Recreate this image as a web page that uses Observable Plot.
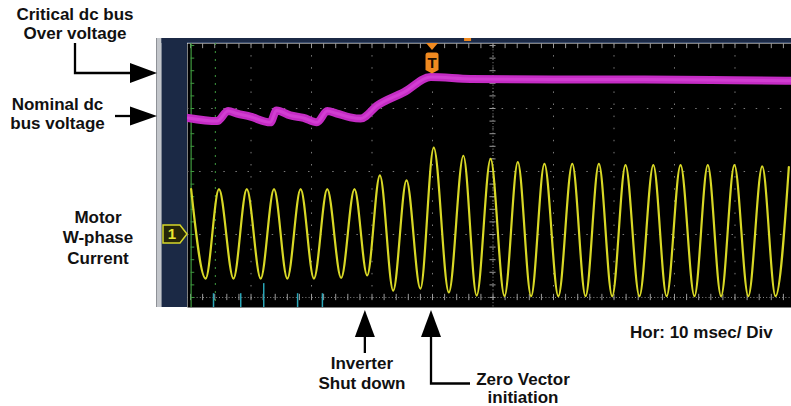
<!DOCTYPE html>
<html><head><meta charset="utf-8">
<script src="https://cdn.jsdelivr.net/npm/d3@7"></script>
<script src="https://cdn.jsdelivr.net/npm/@observablehq/plot@0.6"></script>
<style>body{margin:0;background:#fff}</style>
</head><body><div id="chart"></div>
<script>
// Time in ms (10 ms/div, trigger at 0); amplitude in screen divisions
const busT = [-40.4, -35.6, -33.8, -32.3, -30.1, -26.8, -25.8, -23.5, -21.3, -19.1, -17.4, -15.8, -13.6, -11.9, -9.1, -4.7, -0.3, 6.3, 20, 35, 50, 59.3];
const busV = [2.85, 2.80, 2.96, 2.92, 2.87, 2.78, 2.97, 2.89, 2.85, 2.78, 2.96, 2.92, 2.86, 2.84, 3.05, 3.26, 3.50, 3.47, 3.46, 3.46, 3.45, 3.44];

const curT = [-39.9, -37.5, -35.3, -32.9, -30.7, -28.4, -26.2, -24.0, -21.8, -19.6, -17.4, -15.1, -12.9, -10.8,
  -8.7, -6.5, -4.3, -2.0, 0.2, 2.7, 5.1, 7.3, 9.6, 11.9, 14.1, 16.3, 18.5, 20.8, 23.1, 25.3, 27.5, 29.7, 31.9,
  34.2, 36.5, 38.7, 41.0, 43.3, 45.5, 47.7, 49.9, 52.2, 54.5, 56.7, 58.9];
const curV = [1.72, 0.30, 1.72, 0.30, 1.72, 0.30, 1.72, 0.30, 1.72, 0.30, 1.72, 0.31, 1.72, 0.35,
  1.94, 0.11, 1.86, 0.14, 2.38, 0.08, 2.25, 0.03, 2.20, 0.02, 2.15, 0.02, 2.12, 0.02, 2.12, 0.02, 2.12, 0.02, 2.10,
  0.02, 2.10, 0.02, 2.10, 0.02, 2.10, 0.02, 2.10, 0.02, 2.08, 0.02, 2.07];

const cyanT = [-36.2, -31.7, -27.9, -22.3, -18.2];
const cyanTop = [0.06, 0.06, 0.22, 0.06, 0.06];

const gridT = [-30, -20, -10, 0, 10, 20, 30, 40, 50];
const gridV = [1, 2, 3];
const minorT = d3.range(-40, 60, 2);
const minorV = d3.range(0, 4.01, 0.2);

const levelNames = [["Critical dc bus", "Over voltage"], ["Nominal dc", "bus voltage"]];
const levelV = [3.556, 2.873];
const eventNames = [["Inverter", "Shut down"], ["Zero Vector", "initiation"]];
const eventT = [-11.1, 0];
const channelLabel = ["Motor", "W-phase", "Current"];
const channelLevel = 1;
const horLabel = "Hor: 10 msec/ Div";

const W = 791, H = 406, mL = 187, mR = 0, mT = 43, mB = 99;
const gridColor = "#7a7a7a";

const chart = Plot.plot({
  width: W, height: H,
  marginLeft: mL, marginRight: mR, marginTop: mT, marginBottom: mB,
  x: {domain: [-40.5, 59.34], axis: null},
  y: {domain: [-0.159, 4.032], axis: null},
  style: {background: "white", overflow: "visible"},
  marks: [
    Plot.frame({fill: "black", stroke: null}),
    Plot.ruleX(gridT, {stroke: gridColor, strokeDasharray: "1.5,10.6"}),
    Plot.ruleY(gridV, {stroke: gridColor, strokeDasharray: "1.5,10.6"}),
    // center axes with minor ticks
    Plot.ruleY([0], {stroke: "#8a8a8a", strokeDasharray: "1,2.2"}),
    Plot.ruleX(minorT, {y1: -0.05, y2: 0.05, stroke: "#9a9a9a"}),
    Plot.ruleX([10], {stroke: "#8a8a8a", strokeDasharray: "1,2.2"}),
    Plot.ruleY(minorV, {x1: 9.5, x2: 10.5, stroke: "#9a9a9a"}),
    // top edge ticks
    Plot.ruleX(minorT, {y1: 3.95, y2: 4.032, stroke: "#9a9a9a"}),
    // green cursors
    Plot.ruleX([-39.9], {stroke: "#3f9a3f", strokeWidth: 1.2}),
    Plot.ruleY(minorV, {x1: -39.9, x2: -39.3, stroke: "#3f9a3f"}),
    Plot.ruleX([-35.9], {stroke: "#3f9a3f", strokeDasharray: "2,6"}),
    // cyan channel
    Plot.ruleX(cyanT, {y1: -0.159, y2: (d, i) => cyanTop[i], stroke: "#2aa6b8", strokeWidth: 1.5}),
    // dc bus trace
    Plot.line(busT, {x: d => d, y: (d, i) => busV[i], curve: "monotone-x", stroke: "#c42cc4", strokeWidth: 8, strokeLinejoin: "round", strokeLinecap: "round"}),
    Plot.line(busT, {x: d => d, y: (d, i) => busV[i], curve: "monotone-x", stroke: "#d23ed2", strokeWidth: 3, strokeLinejoin: "round"}),
    // motor current trace
    Plot.line(curT, {x: d => d, y: (d, i) => curV[i], curve: "monotone-x", stroke: "#d8d826", strokeWidth: 2.2})
  ]
});
document.getElementById("chart").appendChild(chart);

const svg = d3.select(chart);
const sx = chart.scale("x"), sy = chart.scale("y");
const X = t => sx.apply(t), Y = v => sy.apply(v);
const plotBottom = H - mB;

// scope chrome
const g = svg.append("g");
g.append("rect").attr("x", mL - 30.5).attr("y", 38).attr("width", 5).attr("height", plotBottom - 38).attr("fill", "#c3c6cb");
g.append("line").attr("x1", mL - 30.5).attr("x2", mL - 30.5).attr("y1", 38).attr("y2", plotBottom).attr("stroke", "#8e9197");
g.append("rect").attr("x", mL - 25.5).attr("y", 38).attr("width", 25.5).attr("height", plotBottom - 38).attr("fill", "#1b2945");
g.append("rect").attr("x", mL - 25.5).attr("y", 38).attr("width", W - mL + 25.5).attr("height", mT - 38).attr("fill", "#1b2945");
g.append("line").attr("x1", mL).attr("x2", W).attr("y1", mT - 0.5).attr("y2", mT - 0.5).attr("stroke", "#3e5070");
g.append("rect").attr("x", X(5.3)).attr("y", 38).attr("width", 7).attr("height", 3).attr("fill", "#f08a20");

// channel 1 marker
const cy = Y(channelLevel);
g.append("path").attr("d", `M${mL-24},${cy-9} H${mL-7} L${mL},${cy} L${mL-7},${cy+9} H${mL-24} Z`)
  .attr("fill", "#262608").attr("stroke", "#d6d628").attr("stroke-width", 1.5);
g.append("text").attr("x", mL - 15).attr("y", cy + 5.5).attr("text-anchor", "middle")
  .attr("font-family", "Liberation Sans, Arial, sans-serif").attr("font-weight", 700).attr("font-size", 15)
  .attr("fill", "#e8e830").text("1");

// trigger marker
const tx = X(0);
g.append("path").attr("d", `M${tx-6},${mT} L${tx+6},${mT} L${tx},${mT+7} Z`).attr("fill", "#f08a20");
g.append("path").attr("d", `M${tx-6.5},${mT+12} Q${tx-6.5},${mT+9.5} ${tx-4},${mT+9.5} H${tx+4} Q${tx+6.5},${mT+9.5} ${tx+6.5},${mT+12} V${mT+27} L${tx},${mT+30.5} L${tx-6.5},${mT+27} Z`)
  .attr("fill", "#f08a20");
g.append("text").attr("x", tx).attr("y", mT + 25).attr("text-anchor", "middle")
  .attr("font-family", "Liberation Sans, Arial, sans-serif").attr("font-weight", 700).attr("font-size", 15)
  .attr("fill", "#1a0d00").text("T");

// annotations
const font = s => s.attr("font-family", "Liberation Sans, Arial, sans-serif").attr("font-weight", 700).attr("font-size", 17).attr("fill", "#111");
const ann = svg.append("g");
function lines(arr, x, y0, dy, anchor = "middle") {
  arr.forEach((s, i) => font(ann.append("text")).attr("x", x).attr("y", y0 + i * dy).attr("text-anchor", anchor).text(s));
}
const ink = "#000";
const sw = 2.3;
const tipX = mL - 30;
// critical over voltage
const yc = Y(levelV[0]);
lines(levelNames[0], 75, 19.5, 19.5);
ann.append("path").attr("d", `M75,43 V${yc} H${tipX-26}`).attr("fill", "none").attr("stroke", ink).attr("stroke-width", sw);
ann.append("path").attr("d", `M${tipX},${yc} L${tipX-27},${yc-10} L${tipX-27},${yc+10} Z`).attr("fill", ink);
// nominal
const yn = Y(levelV[1]);
lines(levelNames[1], 57.5, 110, 18.5);
ann.append("path").attr("d", `M115,${yn} H${tipX-26}`).attr("fill", "none").attr("stroke", ink).attr("stroke-width", sw);
ann.append("path").attr("d", `M${tipX},${yn} L${tipX-27},${yn-9.5} L${tipX-27},${yn+9.5} Z`).attr("fill", ink);
// motor current label
lines(channelLabel, 98, 222.5, 20.5);
// inverter shut down
const xi = X(eventT[0]);
const tipY = plotBottom + 3;
ann.append("path").attr("d", `M${xi},${tipY} L${xi-10},${tipY+27} L${xi+10},${tipY+27} Z`).attr("fill", ink);
ann.append("path").attr("d", `M${xi},${tipY+26} V353`).attr("stroke", ink).attr("stroke-width", sw);
lines(eventNames[0], xi - 3, 368.5, 20.5);
// zero vector
const xz = X(eventT[1]) - 1;
ann.append("path").attr("d", `M${xz},${tipY} L${xz-10},${tipY+27} L${xz+10},${tipY+27} Z`).attr("fill", ink);
ann.append("path").attr("d", `M${xz},${tipY+26} V383.5 H470`).attr("fill", "none").attr("stroke", ink).attr("stroke-width", sw);
lines(eventNames[1], 523, 385, 17.5);
// horizontal scale
lines([horLabel], 630, 338, 0, "start");
</script>
</body></html>
